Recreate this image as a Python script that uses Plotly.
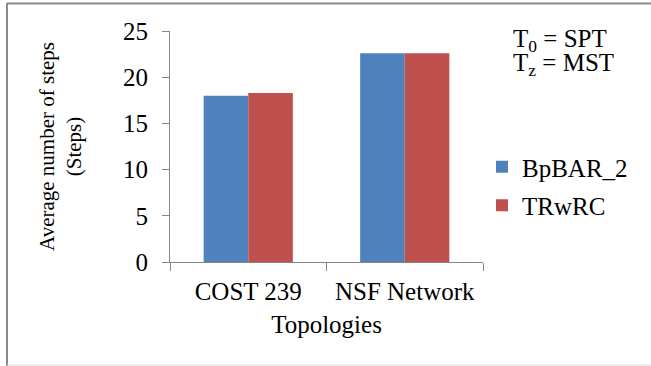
import plotly.graph_objects as go

# Chart data
topologies = ["COST 239", "NSF Network"]
bpbar_2 = [18.0, 22.6]
trwrc = [18.3, 22.6]
y_ticks = [0, 5, 10, 15, 20, 25]

W, H = 651, 366
ML, MR, MT, MB = 170, 168, 31, 104
PW, PH = W - ML - MR, H - MT - MB

FONT = "Liberation Serif"
FS = 25
AXIS_GRAY = "#868686"


def px_x(px):
    return (px - ML) / PW


def px_y(py):
    return (H - MB - py) / PH


fig = go.Figure()
fig.add_trace(go.Bar(name="BpBAR_2", x=topologies, y=bpbar_2,
                     marker=dict(color="#4F81BD", line=dict(width=0)),
                     legendgroup="a"))
fig.add_trace(go.Bar(name="TRwRC", x=topologies, y=trwrc,
                     marker=dict(color="#C0504D", line=dict(width=0)),
                     legendgroup="b"))

fig.update_layout(
    width=W, height=H,
    margin=dict(l=ML, r=MR, t=MT, b=MB, autoexpand=False),
    paper_bgcolor="white", plot_bgcolor="white",
    font=dict(family=FONT, size=FS, color="black"),
    barmode="group", bargap=0.43, bargroupgap=0,
    showlegend=True,
    legend=dict(x=px_x(482), y=px_y(144), xanchor="left", yanchor="top",
                bgcolor="rgba(0,0,0,0)", borderwidth=0,
                font=dict(family=FONT, size=FS, color="black"),
                itemwidth=30, traceorder="grouped", tracegroupgap=3),
    xaxis=dict(
        showline=True, linecolor=AXIS_GRAY, linewidth=1,
        ticks="outside", tickson="boundaries", ticklen=8, tickcolor=AXIS_GRAY,
        showgrid=False, zeroline=False,
        tickfont=dict(family=FONT, size=FS, color="black"),
        ticklabelstandoff=7,
        title=dict(text="Topologies", font=dict(family=FONT, size=FS, color="black"),
                   standoff=11),
        automargin=False,
    ),
    yaxis=dict(
        range=[0, 25], tickvals=y_ticks,
        showline=True, linecolor=AXIS_GRAY, linewidth=1,
        ticks="outside", ticklen=7, tickcolor=AXIS_GRAY,
        showgrid=False, zeroline=False,
        tickfont=dict(family=FONT, size=FS, color="black"),
        ticklabelstandoff=9,
        title=dict(text="Average number of steps<br>(Steps)",
                   font=dict(family=FONT, size=21, color="black"), standoff=35),
        automargin=False,
    ),
)

# Formula notes in the upper right
fig.add_annotation(x=px_x(511), y=px_y(41), xref="paper", yref="paper",
                   xanchor="left", yanchor="middle", showarrow=False,
                   text="T<sub>0</sub> = SPT",
                   font=dict(family=FONT, size=FS, color="black"))
fig.add_annotation(x=px_x(511), y=px_y(64), xref="paper", yref="paper",
                   xanchor="left", yanchor="middle", showarrow=False,
                   text="T<sub>z</sub> = MST",
                   font=dict(family=FONT, size=FS, color="black"))

# Frame around the figure
fig.add_shape(type="line", xref="paper", yref="paper",
              x0=px_x(7), x1=px_x(7), y0=px_y(3), y1=px_y(366),
              line=dict(color="#8a8a8a", width=2))
fig.add_shape(type="line", xref="paper", yref="paper",
              x0=px_x(7), x1=px_x(651), y0=px_y(3.5), y1=px_y(3.5),
              line=dict(color="#8a8a8a", width=2))
fig.add_shape(type="line", xref="paper", yref="paper",
              x0=px_x(7), x1=px_x(651), y0=px_y(365), y1=px_y(365),
              line=dict(color="#dddddd", width=1))

fig.write_html("out.html")
